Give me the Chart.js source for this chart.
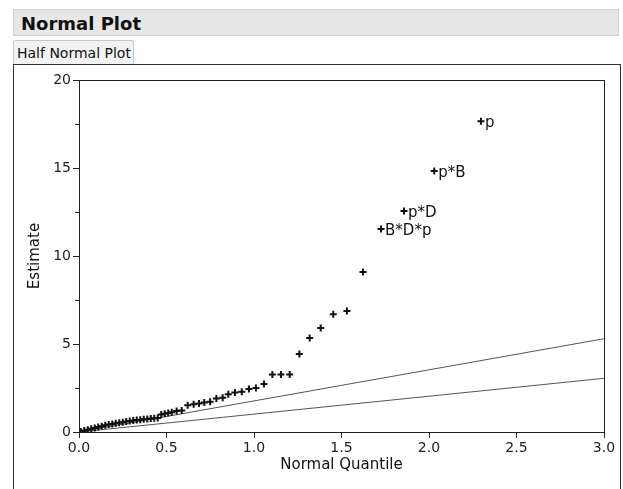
<!DOCTYPE html>
<html>
<head>
<meta charset="utf-8">
<script src="https://cdn.jsdelivr.net/npm/chart.js@4.4.1/dist/chart.umd.min.js"></script>
<style>
  body { margin: 0; background: #fff; font-family: 'DejaVu Sans', sans-serif; overflow: hidden; }
  #title-bar { position: absolute; left: 13px; top: 9px; width: 606px; height: 27px; background: #e7e7e7; border: 1px solid #d0d0d0; font-weight: bold; font-size: 18px; line-height: 27px; padding-left: 7px; box-sizing: border-box; color: #111; }
  #tab { position: absolute; left: 13px; top: 40px; width: 121px; height: 24px; background: #f2f2f2; border: 1px solid #c8c8c8; border-bottom: none; border-radius: 3px 3px 0 0; font-size: 14px; line-height: 24px; padding-left: 3px; box-sizing: border-box; color: #111; }
  #frame { position: absolute; left: 13px; top: 64px; width: 608px; height: 440px; border: 1px solid #333; box-sizing: border-box; }
  #wrap { position: absolute; left: 14px; top: 65px; width: 606px; height: 424px; }
</style>
</head>
<body>
<div id="title-bar">Normal Plot</div>
<div id="tab">Half Normal Plot</div>
<div id="frame"></div>
<div id="wrap"><canvas id="halfNormalChart"></canvas></div>
<script>
// half normal quantiles (x) and effect estimates (y)
const quantiles = [0.01, 0.03, 0.05, 0.07, 0.09, 0.11, 0.13, 0.15, 0.17, 0.19, 0.21, 0.23, 0.25, 0.27, 0.29, 0.31,
    0.33, 0.35, 0.37, 0.39, 0.41, 0.43, 0.45, 0.47, 0.49, 0.51, 0.53, 0.558, 0.587, 0.621, 0.655, 0.686, 0.716,
    0.749, 0.785, 0.821, 0.853, 0.891, 0.93, 0.971, 1.011, 1.057, 1.105, 1.154, 1.204, 1.259, 1.318, 1.381,
    1.453, 1.531, 1.623, 1.726, 1.857, 2.03, 2.297];
const estimates = [0.03, 0.08, 0.13, 0.18, 0.23, 0.28, 0.33, 0.38, 0.43, 0.46, 0.5, 0.53, 0.56, 0.59, 0.62, 0.65,
    0.68, 0.7, 0.72, 0.74, 0.76, 0.78, 0.8, 1.0, 1.03, 1.08, 1.12, 1.2, 1.22, 1.52, 1.57, 1.62, 1.67,
    1.72, 1.9, 1.95, 2.14, 2.25, 2.29, 2.45, 2.5, 2.73, 3.26, 3.26, 3.26, 4.43, 5.34, 5.91,
    6.69, 6.88, 9.09, 11.53, 12.56, 14.83, 17.65];
const pointNames = ['', '', '', '', '', '', '', '', '', '', '', '', '', '', '', '',
    '', '', '', '', '', '', '', '', '', '', '', '', '', '', '', '', '',
    '', '', '', '', '', '', '', '', '', '', '', '', '', '', '',
    '', '', '', 'B*D*p', 'p*D', 'p*B', 'p'];

// reference lines through the origin
const refLineX = [0, 3];
const refUpper = [0, 5.3];
const refLower = [0, 3.05];

const xTicks = [0, 0.5, 1, 1.5, 2, 2.5, 3];
const yTicks = [0, 5, 10, 15, 20];
const yMinorTicks = [2.5, 7.5, 12.5, 17.5];

Chart.defaults.font.family = "'DejaVu Sans', sans-serif";
Chart.defaults.color = '#222';

const framePlugin = {
    id: 'frame',
    afterDraw(chart) {
        const { ctx, chartArea: a, scales } = chart;
        ctx.save();
        ctx.strokeStyle = '#222';
        ctx.lineWidth = 1;
        ctx.strokeRect(Math.round(a.left) + 0.5, Math.round(a.top) + 0.5, Math.round(a.right - a.left), Math.round(a.bottom - a.top));
        // minor ticks on the y axis
        ctx.beginPath();
        yMinorTicks.forEach(v => {
            const y = Math.round(scales.y.getPixelForValue(v)) + 0.5;
            ctx.moveTo(a.left - 4, y);
            ctx.lineTo(a.left, y);
        });
        ctx.stroke();
        // point labels
        ctx.fillStyle = '#111';
        ctx.font = "15px 'DejaVu Sans', sans-serif";
        ctx.textBaseline = 'middle';
        const meta = chart.getDatasetMeta(0);
        meta.data.forEach((pt, i) => {
            if (pointNames[i]) ctx.fillText(pointNames[i], pt.x + 4, pt.y + 2);
        });
        ctx.restore();
    }
};

new Chart(document.getElementById('halfNormalChart'), {
    type: 'scatter',
    data: {
        datasets: [
            {
                data: quantiles.map((q, i) => ({ x: q, y: estimates[i] })),
                pointStyle: 'cross', pointRadius: 3.5, borderWidth: 2,
                borderColor: '#111', backgroundColor: '#111'
            },
            {
                data: refLineX.map((q, i) => ({ x: q, y: refUpper[i] })),
                type: 'line', showLine: true, pointRadius: 0, borderColor: '#555', borderWidth: 1
            },
            {
                data: refLineX.map((q, i) => ({ x: q, y: refLower[i] })),
                type: 'line', showLine: true, pointRadius: 0, borderColor: '#555', borderWidth: 1
            }
        ]
    },
    options: {
        responsive: true, maintainAspectRatio: false, animation: false,
        layout: { padding: { top: 15, right: 16, left: 0, bottom: 0 } },
        plugins: { legend: { display: false }, tooltip: { enabled: false } },
        scales: {
            x: {
                type: 'linear', min: 0, max: 3,
                afterBuildTicks: s => { s.ticks = xTicks.map(v => ({ value: v })); },
                afterFit: s => { s.height = 57; },
                ticks: { callback: v => v.toFixed(1), font: { size: 14 }, padding: 2, color: '#222', maxRotation: 0 },
                grid: { drawOnChartArea: false, tickLength: 6, color: '#222' },
                border: { color: '#222' },
                title: { display: true, text: 'Normal Quantile', font: { size: 15 }, color: '#111', padding: { top: 0, bottom: 15 } }
            },
            y: {
                type: 'linear', min: 0, max: 20,
                afterBuildTicks: s => { s.ticks = yTicks.map(v => ({ value: v })); },
                afterFit: s => { s.width = 65; },
                ticks: { font: { size: 14 }, padding: 2, color: '#222' },
                grid: { drawOnChartArea: false, tickLength: 6, color: '#222' },
                border: { color: '#222' },
                title: { display: true, text: 'Estimate', font: { size: 15 }, color: '#111', padding: { top: 12, bottom: 0 } }
            }
        }
    },
    plugins: [framePlugin]
});
</script>
</body>
</html>
